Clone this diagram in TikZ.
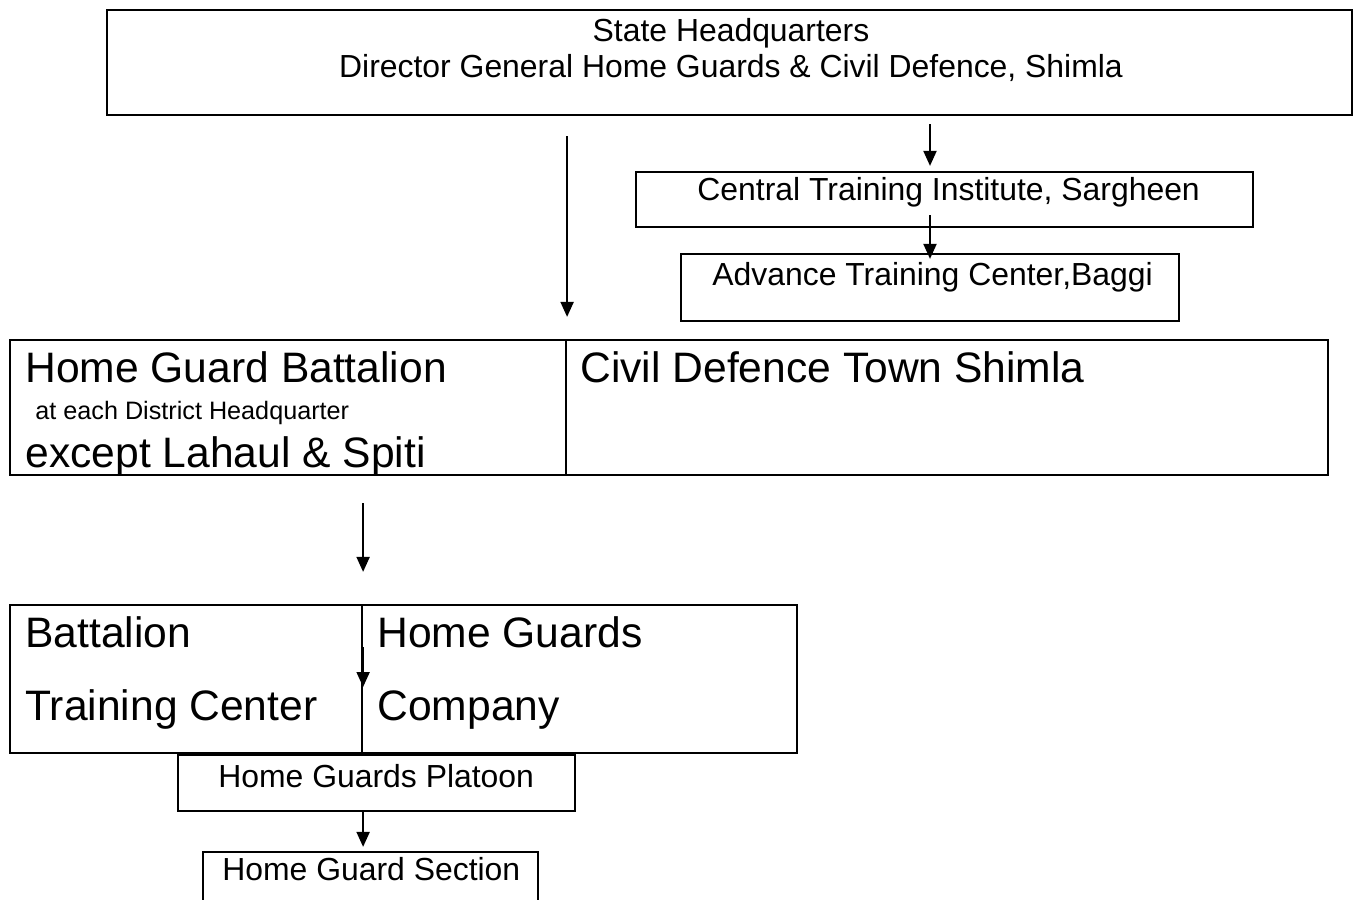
\documentclass[tikz,border=0pt]{standalone}
\usepackage{fontspec}
\setmainfont{Liberation Sans}
\usetikzlibrary{positioning,fit,arrows.meta}
\tikzset{
  box/.style={draw,line width=1.1pt,inner sep=0pt},
  sml/.style={font=\fontsize{15.95}{18}\selectfont,inner sep=0pt,anchor=base west},
  tny/.style={font=\fontsize{12.6}{15}\selectfont,inner sep=0pt,anchor=base west},
  big/.style={font=\fontsize{21.3}{25}\selectfont,inner sep=0pt,anchor=base west},
  arr/.style={-{Triangle[length=7.5pt,width=6.5pt]},line width=1pt}
}
\begin{document}
\begin{tikzpicture}[x=0.5pt,y=-0.5pt]
\useasboundingbox (0,0) rectangle (1361,900);
% boxes
\node[box,fit={(107,10) (1352,115)}] (hq) {};
\node[box,fit={(636,172) (1253,227)}] (cti) {};
\node[box,fit={(681,254) (1179,321)}] (atc) {};
\node[box,fit={(10,340) (566,475)}] (hgb) {};
\node[box,fit={(566,340) (1328,475)}] (cd) {};
\node[box,fit={(10,605) (362,753)}] (btc) {};
\node[box,fit={(362,605) (797,753)}] (hgc) {};
\node[box,fit={(178,755) (575,811)}] (plt) {};
\node[box,fit={(203,852) (538,903)}] (sec) {};
% texts
\node[sml,anchor=base] (hqa) at (731,41) {State Headquarters};
\node[sml,anchor=base] (hqb) at (731,77) {Director General Home Guards \& Civil Defence, Shimla};
\node[sml] (ctit) at (697,200) {Central Training Institute, Sargheen};
\node[sml] (atct) at (712,285) {Advance Training Center,Baggi};
\node[big] (hgba) at (25,382) {Home Guard Battalion};
\node[tny] (hgbb) at (35,419) {at each District Headquarter};
\node[big] (hgbc) at (25,467) {except Lahaul \& Spiti};
\node[big] (cdt) at (580,382) {Civil Defence Town Shimla};
\node[big] (btca) at (25,647) {Battalion};
\node[big] (btcb) at (25,720) {Training Center};
\node[big] (hgca) at (377,647) {Home Guards};
\node[big] (hgcb) at (377,720) {Company};
\node[sml] (pltt) at (218,787) {Home Guards Platoon};
\node[sml] (sect) at (222,880) {Home Guard Section};
% arrows
\draw[arr,shorten <=10pt,shorten >=11pt] (hq.south -| hgb.north east) -- (hgb.north east);
\draw[arr,shorten <=4pt,shorten >=2.5pt] (hq.south -| atc.north) -- (cti.north -| atc.north);
\draw[arr] ([yshift=6.5pt]cti.south -| atc.north) -- ([yshift=-3pt]atc.north);
\draw[arr,shorten <=13.5pt,shorten >=16pt] (hgb.south -| btc.east) -- (btc.north east);
\draw[arr] ([yshift=16pt]btc.east) -- ([yshift=-4pt]btc.east);
\draw[arr,shorten >=2pt] (plt.south -| btc.east) -- (sec.north -| btc.east);
\end{tikzpicture}
\end{document}
